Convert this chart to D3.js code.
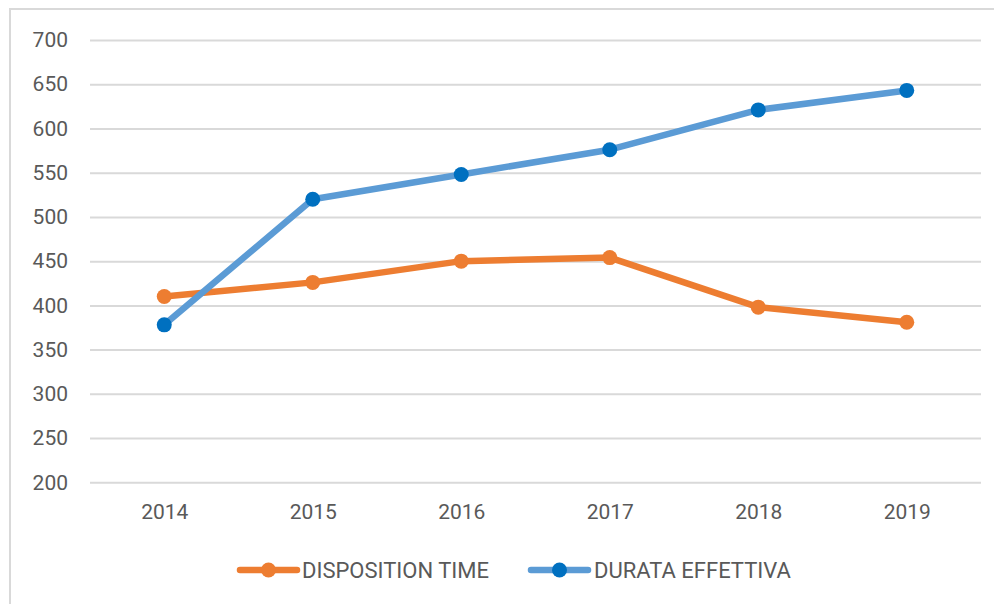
<!DOCTYPE html>
<html>
<head>
<meta charset="utf-8">
<script src="https://cdn.jsdelivr.net/npm/d3@7"></script>
<style>
  html, body { margin: 0; padding: 0; background: #fff; }
  svg { display: block; }
  text { font-family: Roboto, "Liberation Sans", sans-serif; fill: #595959; }
</style>
</head>
<body>
<svg id="chart" width="994" height="604"></svg>
<script>
const years = ["2014", "2015", "2016", "2017", "2018", "2019"];
const dispositionTime = [410, 426, 450, 454, 398, 381];
const durataEffettiva = [378, 520, 548, 576, 621, 643];
const yTicks = [200, 250, 300, 350, 400, 450, 500, 550, 600, 650, 700];
const seriesNames = ["DISPOSITION TIME", "DURATA EFFETTIVA"];

const series = [
  { name: seriesNames[0], values: dispositionTime, line: "#ED7D31", marker: "#ED7D31" },
  { name: seriesNames[1], values: durataEffettiva, line: "#5B9BD5", marker: "#0070C0" }
];

const svg = d3.select("#chart");
const W = 994, H = 604;

// outer frame
svg.append("rect")
  .attr("x", 10).attr("y", 9)
  .attr("width", W + 10).attr("height", H + 10)
  .attr("fill", "none").attr("stroke", "#d9d9d9").attr("stroke-width", 2);

const plot = { left: 90, right: 981, top: 40, bottom: 482.3 };

const x = d3.scalePoint().domain(years).range([plot.left, plot.right]).padding(0.5);
const y = d3.scaleLinear().domain([200, 700]).range([plot.bottom, plot.top]);

// grid lines
const yAxis = d3.axisLeft(y).tickValues(yTicks).tickSize(-(plot.right - plot.left)).tickPadding(22);
const gy = svg.append("g").attr("transform", `translate(${plot.left},0)`).call(yAxis);
gy.select(".domain").remove();
gy.selectAll(".tick line").attr("stroke", "#d9d9d9").attr("stroke-width", 2);
gy.selectAll(".tick text")
  .attr("font-size", 21).attr("fill", "#595959")
  .style("font-family", "Roboto, 'Liberation Sans', sans-serif");

// x axis labels
const xAxis = d3.axisBottom(x).tickSize(0).tickPadding(22);
const gx = svg.append("g").attr("transform", `translate(0,${plot.bottom})`).call(xAxis);
gx.select(".domain").remove();
gx.selectAll(".tick text")
  .attr("font-size", 21).attr("fill", "#595959")
  .style("font-family", "Roboto, 'Liberation Sans', sans-serif");

const line = d3.line().x((d, i) => x(years[i])).y(d => y(d));

series.forEach(s => {
  const g = svg.append("g");
  g.append("path")
    .datum(s.values)
    .attr("d", line)
    .attr("fill", "none")
    .attr("stroke", s.line)
    .attr("stroke-width", 6.5)
    .attr("stroke-linejoin", "round")
    .attr("stroke-linecap", "round");
  g.selectAll("circle")
    .data(s.values)
    .join("circle")
    .attr("cx", (d, i) => x(years[i]))
    .attr("cy", d => y(d))
    .attr("r", 7.5)
    .attr("fill", s.marker);
});

// legend
const legendY = 570;
const legendItems = [
  { x0: 240, x1: 297, tx: 302 },
  { x0: 531, x1: 588, tx: 594 }
];
series.forEach((s, i) => {
  const L = legendItems[i];
  const g = svg.append("g");
  g.append("line")
    .attr("x1", L.x0).attr("x2", L.x1)
    .attr("y1", legendY).attr("y2", legendY)
    .attr("stroke", s.line).attr("stroke-width", 6.5).attr("stroke-linecap", "round");
  g.append("circle")
    .attr("cx", (L.x0 + L.x1) / 2).attr("cy", legendY).attr("r", 7.5)
    .attr("fill", s.marker);
  g.append("text")
    .attr("x", L.tx).attr("y", legendY)
    .attr("dy", "0.35em")
    .attr("font-size", 22)
    .text(s.name);
});
</script>
</body>
</html>
